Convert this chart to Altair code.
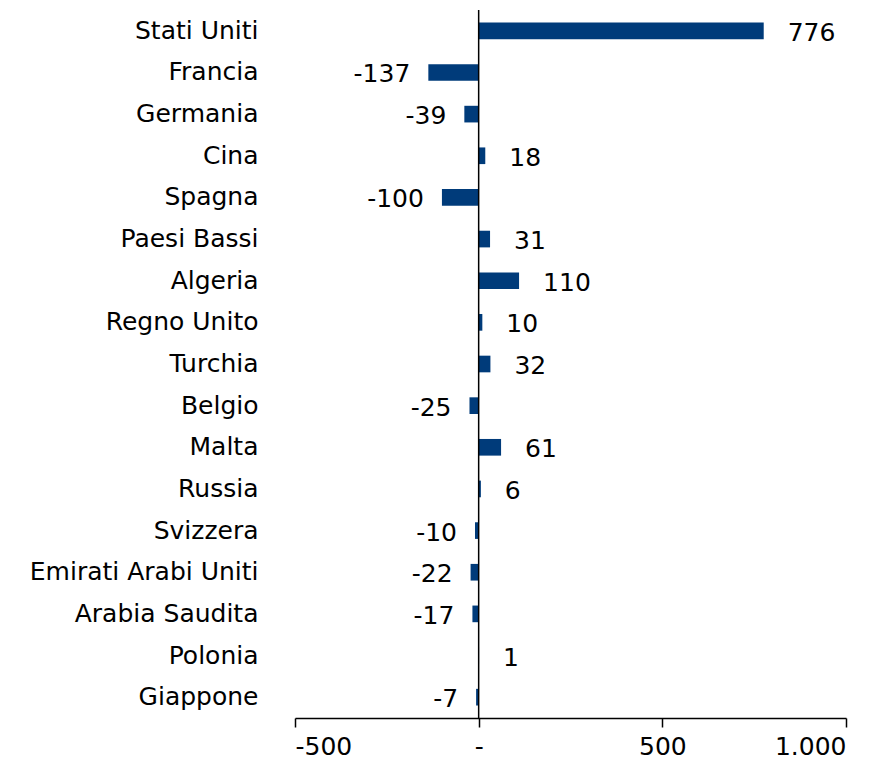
import altair as alt
import pandas as pd

paesi = ["Stati Uniti", "Francia", "Germania", "Cina", "Spagna", "Paesi Bassi",
         "Algeria", "Regno Unito", "Turchia", "Belgio", "Malta", "Russia",
         "Svizzera", "Emirati Arabi Uniti", "Arabia Saudita", "Polonia", "Giappone"]
valori = [776, -137, -39, 18, -100, 31, 110, 10, 32, -25, 61, 6, -10, -22, -17, 1, -7]
x_ticks = [-500, 0, 500, 1000]

df = pd.DataFrame({"paese": paesi, "valore": valori})
FONT = "DejaVu Sans"
COL = "#003B7A"
FS = 25

y_enc = alt.Y("paese:N", sort=paesi, title=None,
              scale=alt.Scale(paddingInner=0.6, paddingOuter=0.3),
              axis=alt.Axis(domain=False, ticks=False, labelPadding=37,
                            labelFontSize=FS, labelFont=FONT, labelColor="#000000",
                            labelLimit=400))
x_scale = alt.Scale(domain=[-500, 1000], nice=False)

base = alt.Chart(df).transform_calculate(lbl="toString(datum.valore)")
bars = base.mark_bar(color=COL).encode(
    x=alt.X("valore:Q", scale=x_scale, title=None,
            axis=alt.Axis(values=x_ticks, grid=False, domainColor="#000000",
                          domainWidth=1.5, tickColor="#000000", tickSize=9, tickWidth=1.5,
                          labelFontSize=FS, labelFont=FONT, labelColor="#000000",
                          labelPadding=7,
                          labelExpr="datum.value == 0 ? '-' : replace(toString(datum.value), /^(\\d)(\\d{3})$/, '$1.$2')")),
    y=y_enc,
)
pos = base.transform_filter("datum.valore >= 0").mark_text(
    align="left", baseline="middle", dx=24, dy=2, fontSize=FS, font=FONT, color="#000000"
).encode(x=alt.X("valore:Q", scale=x_scale), y=alt.Y("paese:N", sort=paesi), text="lbl:N")
neg = base.transform_filter("datum.valore < 0").mark_text(
    align="right", baseline="middle", dx=-18, dy=2, fontSize=FS, font=FONT, color="#000000"
).encode(x=alt.X("valore:Q", scale=x_scale), y=alt.Y("paese:N", sort=paesi), text="lbl:N")
zero = alt.Chart(pd.DataFrame({"v": [0]})).mark_rule(color="#000000", strokeWidth=1.5).encode(
    x=alt.X("v:Q", scale=x_scale))

chart = alt.layer(bars, zero, pos, neg).properties(
    width=551, height=708,
    autosize=alt.AutoSizeParams(type="none"),
    padding={"left": 287, "top": 2, "right": 31, "bottom": 42},
).configure(background="#ffffff").configure_view(stroke=None, strokeWidth=0)

chart.save("out.html", embed_options={"renderer": "svg", "actions": False})
